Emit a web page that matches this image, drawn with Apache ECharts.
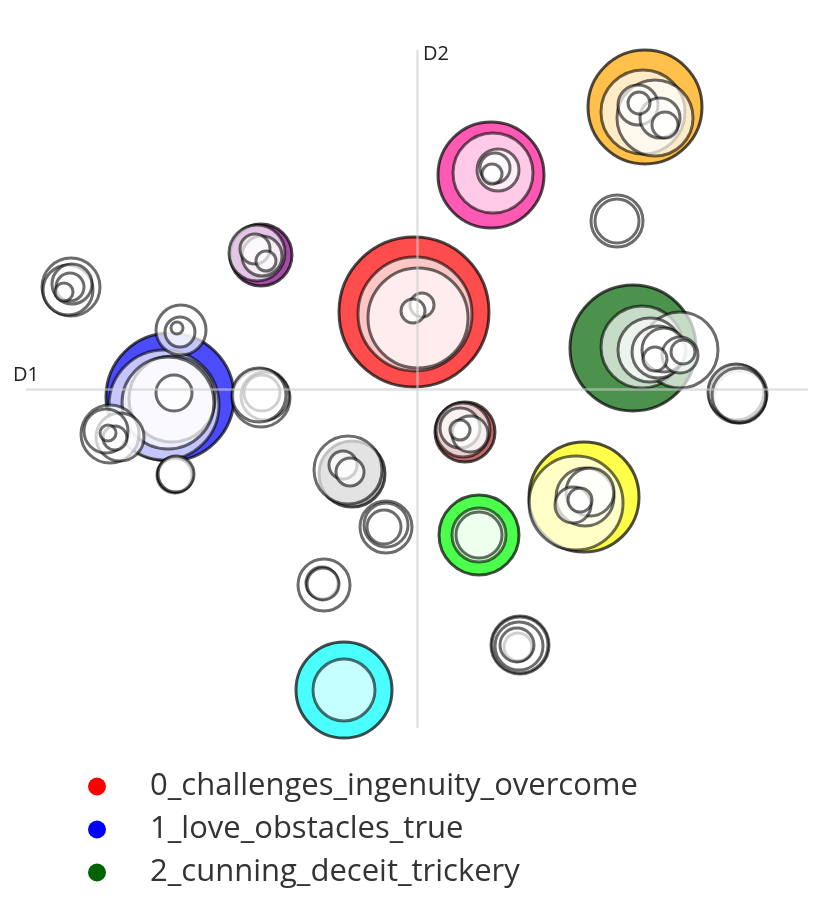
<!DOCTYPE html>
<html>
<head>
<meta charset="utf-8">
<script src="https://cdn.jsdelivr.net/npm/echarts@6.0.0/dist/echarts.min.js"></script>
<style>
  html, body { margin: 0; padding: 0; background: #fff; }
  #chart { width: 834px; height: 898px; }
</style>
</head>
<body>
<div id="chart"></div>
<script>
// topic bubbles: [D1, D2, size]
const topicNames = ['0_challenges_ingenuity_overcome', '1_love_obstacles_true', '2_cunning_deceit_trickery'];
const topicColors = ['red', 'blue', 'darkgreen'];
const topicBubbles = [
  [-3, 77, 75],
  [-247, -8, 64],
  [216, 41, 63]
];

// other topics (no legend entry)
const otherColors = ['orange', 'deeppink', 'purple', 'brown', 'gray', 'cyan', 'lime', 'yellow'];
const otherBubbles = [
  [228, 282, 57],
  [74, 214, 53],
  [-156, 134, 31],
  [48, -43, 30],
  [-65, -85, 33],
  [-73, -301, 48],
  [62, -146, 40],
  [167, -108, 55]
];

// sub-topic bubbles drawn on top
const innerBubbles = [
  // red
  [-2, 75, 57], [1, 71, 50], [5, 84, 12], [-4, 78, 12],
  // blue
  [-253, -16, 55], [-245, -10, 43], [-249, -14, 46], [-243, -4, 18],
  [-236, 59, 25], [-237, 57, 15], [-240, 61, 6],
  [-307, -45, 29], [-297, -48, 24], [-311, -42, 22], [-302, -49, 12], [-309, -44, 8],
  [-242, -86, 18], [-242, -86, 17], [-241, -85, 18],
  [-156, -9, 29], [-152, -7, 24], [-155, -4, 18], [-158, -6, 27],
  // far left
  [-346, 102, 29], [-349, 99, 25], [-345, 105, 20], [-347, 102, 14], [-353, 97, 9],
  // purple
  [-160, 136, 28], [-155, 133, 20], [-162, 140, 15], [-151, 128, 10],
  // green
  [225, 42, 41], [263, 39, 38], [233, 39, 32], [241, 37, 26], [247, 39, 22],
  [263, 34, 18], [238, 30, 12], [266, 37, 12],
  // orange
  [226, 277, 42], [238, 271, 38], [221, 284, 20], [243, 271, 20], [222, 286, 11], [248, 264, 13],
  // pink
  [76, 216, 40], [81, 219, 21], [78, 221, 15], [75, 215, 10],
  // lone rings
  [200, 168, 26], [200, 168, 22],
  [321, -5, 29], [323, -8, 26], [319, -3, 28], [322, -6, 27],
  // brown
  [46, -41, 27], [43, -39, 20], [53, -45, 18], [43, -41, 10],
  // gray
  [-69, -81, 34], [-74, -76, 14], [-67, -83, 14],
  [-31, -138, 26], [-31, -136, 22], [-33, -138, 17],
  [-93, -196, 26], [-95, -194, 16], [-94, -195, 16],
  // cyan, lime
  [-73, -301, 31],
  [62, -146, 27], [62, -146, 23],
  // yellow
  [159, -114, 47], [168, -108, 29], [173, -103, 24], [156, -116, 18], [163, -111, 12],
  [103, -256, 29], [103, -256, 28], [102, -257, 24], [101, -258, 14], [100, -256, 17]
];

const chart = echarts.init(document.getElementById('chart'));

const bubbleSize = v => v[2] * 2;

const series = topicNames.map((name, i) => ({
  name: name,
  type: 'scatter',
  silent: true,
  z: 2,
  symbolSize: bubbleSize,
  data: [topicBubbles[i]],
  itemStyle: { color: topicColors[i], borderColor: '#000', borderWidth: 3, opacity: 0.7 }
}));

series.push({
  name: 'others',
  type: 'scatter',
  silent: true,
  z: 2,
  symbolSize: bubbleSize,
  data: otherBubbles.map((b, i) => ({ value: b, itemStyle: { color: otherColors[i] } })),
  itemStyle: { borderColor: '#000', borderWidth: 3, opacity: 0.7 }
});

series.push({
  name: 'subtopics',
  type: 'scatter',
  silent: true,
  z: 3,
  symbolSize: bubbleSize,
  data: innerBubbles,
  itemStyle: { color: 'rgba(255,255,255,0.85)', borderColor: 'rgba(0,0,0,0.72)', borderWidth: 3 }
});

const axisBase = {
  type: 'value',
  z: 5,
  axisLine: { show: true, onZero: true, lineStyle: { color: 'rgba(205,205,205,0.6)', width: 2.5 } },
  axisTick: { show: false },
  axisLabel: { show: false },
  splitLine: { show: false }
};

chart.setOption({
  animation: false,
  backgroundColor: '#fff',
  grid: { left: 27, right: 27, top: 51, bottom: 171 },
  xAxis: Object.assign({}, axisBase, { min: -390, max: 390 }),
  yAxis: Object.assign({}, axisBase, { min: -338, max: 338 }),
  legend: {
    data: topicNames,
    orient: 'vertical',
    left: 88,
    top: 771,
    padding: 0,
    icon: 'circle',
    itemWidth: 18,
    itemHeight: 18,
    itemGap: 12,
    itemStyle: { opacity: 1, borderWidth: 0 },
    formatter: name => '{gap|}' + name,
    textStyle: {
      fontFamily: 'Open Sans', fontSize: 31, lineHeight: 31, color: '#333',
      rich: { gap: { width: 39 } }
    }
  },
  graphic: [
    { type: 'text', left: 13, top: 365, style: { text: 'D1', font: '20px "Open Sans"', fill: '#222' } },
    { type: 'text', left: 423, top: 44, style: { text: 'D2', font: '20px "Open Sans"', fill: '#222' } }
  ],
  series: series
});
</script>
</body>
</html>
